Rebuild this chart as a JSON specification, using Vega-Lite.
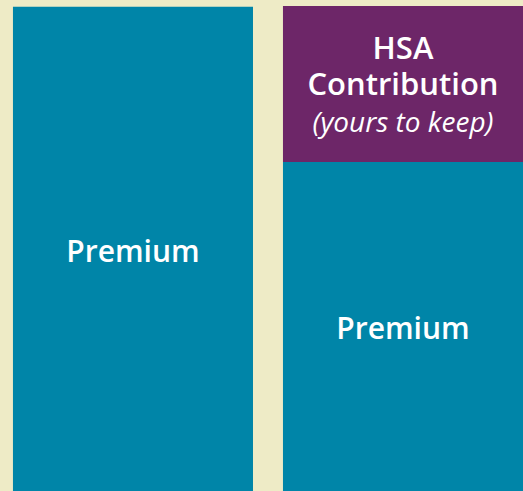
{
  "$schema": "https://vega.github.io/schema/vega-lite/v6.json",
  "width": 523,
  "height": 491,
  "autosize": {"type": "fit", "contains": "padding"},
  "padding": 0,
  "background": "#EEEBC6",
  "config": {"view": {"stroke": null}},
  "datasets": {
    "bars": [
      {"plan": "Plan A", "segment": "Premium", "value": 98.6, "order": 1},
      {"plan": "Plan B", "segment": "Premium", "value": 67.0, "order": 1},
      {"plan": "Plan B", "segment": "HSA Contribution", "value": 31.8, "order": 2}
    ],
    "labels": [
      {"plan": "Plan A", "label": "Premium", "pos": 46.64, "style": "premium"},
      {"plan": "Plan B", "label": "Premium", "pos": 30.96, "style": "premium"},
      {"plan": "Plan B", "label": "HSA", "pos": 87.98, "style": "bold"},
      {"plan": "Plan B", "label": "Contribution", "pos": 80.65, "style": "bold"},
      {"plan": "Plan B", "label": "(yours to keep)", "pos": 73.12, "style": "italic"}
    ]
  },
  "encoding": {
    "x": {
      "field": "plan",
      "type": "nominal",
      "axis": null,
      "scale": {"paddingInner": 0.111, "paddingOuter": 0.024, "align": 1}
    }
  },
  "layer": [
    {
      "data": {"name": "bars"},
      "mark": {"type": "bar", "width": {"band": 1}},
      "encoding": {
        "y": {"field": "value", "type": "quantitative", "stack": "zero", "axis": null, "scale": {"domain": [0, 100], "nice": false}},
        "color": {"field": "segment", "type": "nominal", "legend": null, "scale": {"domain": ["Premium", "HSA Contribution"], "range": ["#0085A8", "#6D2668"]}},
        "order": {"field": "order", "type": "quantitative"}
      }
    },
    {
      "data": {"name": "labels"},
      "transform": [{"filter": "datum.style == 'premium'"}],
      "mark": {"type": "text", "color": "white", "font": "Open Sans", "fontSize": 30, "fontWeight": 600, "baseline": "alphabetic", "align": "center"},
      "encoding": {
        "y": {"field": "pos", "type": "quantitative", "axis": null, "scale": {"domain": [0, 100], "nice": false}},
        "text": {"field": "label"}
      }
    },
    {
      "data": {"name": "labels"},
      "transform": [{"filter": "datum.style == 'bold'"}],
      "mark": {"type": "text", "color": "white", "font": "Open Sans", "fontSize": 31, "fontWeight": 600, "baseline": "alphabetic", "align": "center"},
      "encoding": {
        "y": {"field": "pos", "type": "quantitative", "axis": null, "scale": {"domain": [0, 100], "nice": false}},
        "text": {"field": "label"}
      }
    },
    {
      "data": {"name": "labels"},
      "transform": [{"filter": "datum.style == 'italic'"}],
      "mark": {"type": "text", "color": "white", "font": "Open Sans", "fontSize": 28, "fontStyle": "italic", "fontWeight": 500, "baseline": "alphabetic", "align": "center"},
      "encoding": {
        "y": {"field": "pos", "type": "quantitative", "axis": null, "scale": {"domain": [0, 100], "nice": false}},
        "text": {"field": "label"}
      }
    }
  ]
}
